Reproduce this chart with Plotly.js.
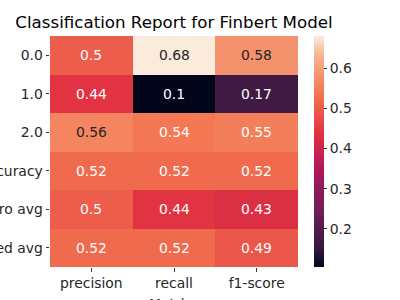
<!DOCTYPE html>
<html><head><meta charset="utf-8">
<script src="https://cdn.plot.ly/plotly-3.0.1.min.js"></script>
<style>html,body{margin:0;padding:0;background:#fff;}#chart{width:400px;height:300px;}</style>
</head><body><div id="chart"></div>
<script>
const rows = ["0.0", "1.0", "2.0", "accuracy", "macro avg", "weighted avg"];
const cols = ["precision", "recall", "f1-score"];
const precision = [0.5, 0.44, 0.56, 0.52, 0.5, 0.52];
const recall = [0.68, 0.1, 0.54, 0.52, 0.44, 0.52];
const f1 = [0.58, 0.17, 0.55, 0.52, 0.43, 0.49];
const cbTicks = [0.2, 0.3, 0.4, 0.5, 0.6];

const z = rows.map((r, i) => [precision[i], recall[i], f1[i]]);
const rocket = [
  [0.0, "#03051a"], [0.083, "#35193e"], [0.25, "#701f57"], [0.417, "#ad1759"],
  [0.583, "#e13342"], [0.75, "#f37651"], [0.917, "#f6b48f"], [1.0, "#faebdd"]
];
const FS = 13.9;
const annotations = [];
rows.forEach((r, i) => cols.forEach((c, j) => {
  const v = z[i][j];
  annotations.push({x: c, y: r, text: String(v), showarrow: false,
    font: {family: "DejaVu Sans", size: FS, color: v >= 0.555 ? "#262626" : "#ffffff"}});
}));
annotations.push({xref: "paper", yref: "paper", x: 0.5, y: -0.118, xanchor: "center", yanchor: "top",
  text: "Metrics", showarrow: false, font: {family: "DejaVu Sans", size: FS, color: "#262626"}});
const data = [{
  type: "heatmap", x: cols, y: rows, z: z, colorscale: rocket,
  zmin: 0.105, zmax: 0.68, hoverinfo: "none",
  colorbar: {thickness: 10, len: 1, lenmode: "fraction", x: 1.0645, xanchor: "left", xpad: 0,
    y: 0.5, yanchor: "middle", ypad: 0, outlinewidth: 0, tickvals: cbTicks,
    ticktext: cbTicks.map(v => v.toFixed(1)), ticks: "outside", ticklen: 3.5, tickwidth: 0.8,
    tickcolor: "#000", tickfont: {family: "DejaVu Sans", size: FS, color: "#262626"}}
}];
const layout = {
  width: 400, height: 300,
  margin: {l: 50, r: 102, t: 36, b: 33, pad: 0},
  paper_bgcolor: "#fff", plot_bgcolor: "#fff",
  title: {text: "Classification Report for Finbert Model", x: 0.435, xanchor: "center",
    y: 0.925, yanchor: "middle", font: {family: "DejaVu Sans", size: 16.67, color: "#000"}},
  xaxis: {type: "category", showgrid: false, zeroline: false, showline: false,
    ticks: "outside", ticklen: 3.5, tickwidth: 0.8, tickcolor: "#000",
    tickfont: {family: "DejaVu Sans", size: FS, color: "#262626"}, automargin: false},
  yaxis: {type: "category", autorange: "reversed", showgrid: false, zeroline: false, showline: false,
    ticks: "outside", ticklen: 3.5, tickwidth: 0.8, tickcolor: "#000",
    tickfont: {family: "DejaVu Sans", size: FS, color: "#262626"}, automargin: false},
  annotations: annotations
};
Plotly.newPlot("chart", data, layout, {displayModeBar: false, staticPlot: true});
</script></body></html>
